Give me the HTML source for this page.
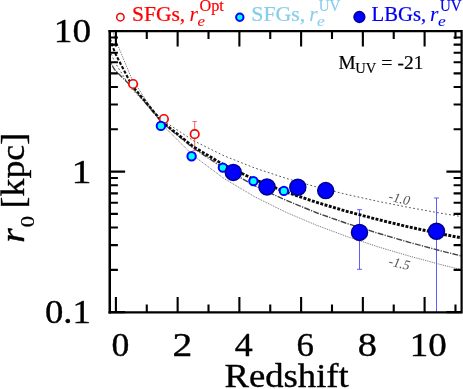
<!DOCTYPE html><html><head><meta charset="utf-8"><style>html,body{margin:0;padding:0;background:#fff}svg{display:block;will-change:transform}text{font-family:"Liberation Serif",serif;stroke-linejoin:round}</style></head><body>
<svg width="463" height="389" viewBox="0 0 463 389">
<rect width="463" height="389" fill="#fff"/>
<defs><clipPath id="c"><rect x="109.9" y="31.1" width="351.7" height="281.3"/></clipPath></defs>
<path d="M194.7,121.5 V150.4 M192.5,121.5 H196.9 M192.5,150.4 H196.9" stroke="#ff5555" stroke-width="0.90" fill="none"/>
<path d="M359.5,209.7 V269.3 M357.0,209.7 H362.0 M357.0,269.3 H362.0" stroke="#4c4cff" stroke-width="0.90" fill="none"/>
<path d="M436.5,198.0 V312.0 M434.0,198.0 H439.0" stroke="#4c4cff" stroke-width="0.90" fill="none"/>
<g clip-path="url(#c)" fill="none">
<path d="M108.18,46.43 L109.73,50.36 L111.27,54.07 L112.81,57.55 L114.36,60.85 L115.90,63.99 L131.34,88.73 L162.21,119.92 L193.07,140.45 L223.94,155.79 L254.81,168.04 L285.69,178.24 L316.56,186.98 L347.43,194.62 L378.29,201.40 L409.16,207.51 L440.03,213.07 L470.90,218.16" stroke="#585858" stroke-width="1" stroke-dasharray="1.8 2.25"/>
<path d="M108.18,14.41 L109.73,20.32 L111.27,25.87 L112.81,31.11 L114.36,36.06 L115.90,40.76 L131.34,77.88 L162.21,124.65 L193.07,155.46 L223.94,178.47 L254.81,196.84 L285.69,212.14 L316.56,225.24 L347.43,236.70 L378.29,246.88 L409.16,256.05 L440.03,264.38 L470.90,272.01" stroke="#666" stroke-width="1" stroke-dasharray="0.9 1.0"/>
<path d="M108.18,56.89 L109.73,60.24 L111.27,63.41 L112.81,66.52 L114.36,69.21 L115.90,71.15 L131.34,86.27 L162.21,122.83 L193.07,147.97 L223.94,168.31 L254.81,185.82 L285.69,200.10 L316.56,212.74 L347.43,223.63 L378.29,233.29 L409.16,242.33 L440.03,250.65 L470.90,258.33" stroke="#444" stroke-width="1.4" stroke-dasharray="5.9 1.3 1.2 1.3"/>
<path d="M108.18,33.70 L109.21,36.84 M109.77,38.56 L110.86,41.69 M111.46,43.37 L112.60,46.47 M113.24,48.14 L114.44,51.22" stroke="#0a0a0a" stroke-width="2.0"/>
<path d="M115.11,52.85 L116.46,55.85 M117.26,57.38 L118.76,60.27 M119.55,61.80 L121.06,64.69 M121.85,66.22 L123.35,69.11 M124.15,70.64 L125.65,73.53 M126.45,75.06 L127.95,77.96 M128.74,79.48 L130.25,82.38" stroke="#0a0a0a" stroke-width="2.1"/>
<path d="M131.04,83.90 L133.00,86.49 M134.01,87.71 L136.03,90.16 M137.06,91.41 L139.09,93.87 M140.12,95.12 L142.14,97.57 M143.17,98.82 L145.20,101.27 M146.23,102.52 L148.25,104.98 M149.28,106.23 L151.31,108.68 M152.34,109.93 L154.36,112.38 M155.39,113.63 L157.42,116.09 M158.45,117.34 L160.47,119.79" stroke="#0a0a0a" stroke-width="2.3"/>
<path d="M161.50,121.04 L163.83,123.19" stroke="#0a0a0a" stroke-width="2.5"/>
<path d="M165.00,124.12 L167.41,126.04 M168.63,127.02 L171.04,128.94 M172.26,129.91 L174.66,131.83 M175.88,132.81 L178.29,134.73 M179.51,135.70 L181.91,137.62 M183.13,138.60 L185.54,140.52 M186.76,141.49 L189.17,143.41 M190.39,144.39 L192.79,146.31" stroke="#0a0a0a" stroke-width="2.6"/>
<path d="M194.09,147.14 L196.68,148.68 M197.99,149.46 L200.58,151.01 M201.89,151.79 L204.48,153.34 M205.79,154.11 L208.38,155.66 M209.69,156.44 L212.28,157.99 M213.59,158.76 L216.18,160.31 M217.49,161.09 L220.08,162.64 M221.39,163.42 L223.98,164.96" stroke="#0a0a0a" stroke-width="2.7"/>
<path d="M225.34,165.60 L228.05,166.89 M229.38,167.53 L232.09,168.82 M233.43,169.46 L236.14,170.75 M237.47,171.38 L240.18,172.67 M241.52,173.31 L244.23,174.60 M245.57,175.24 L248.28,176.53 M249.61,177.16 L252.32,178.45 M253.66,179.09 L256.41,180.27" stroke="#0a0a0a" stroke-width="2.8"/>
<path d="M257.77,180.81 L260.54,181.91 M261.92,182.46 L264.69,183.55 M266.07,184.10 L268.84,185.20 M270.21,185.74 L272.98,186.84 M274.36,187.39 L277.13,188.49 M278.51,189.03 L281.28,190.13 M282.65,190.68 L285.42,191.77 M286.80,192.26 L289.61,193.21 M290.99,193.68 L293.79,194.63 M295.17,195.10 L297.98,196.05 M299.36,196.52 L302.16,197.47 M303.54,197.94 L306.35,198.89 M307.73,199.36 L310.53,200.31 M311.92,200.78 L314.72,201.73 M316.10,202.20 L318.93,203.06 M320.33,203.48 L323.15,204.32 M324.57,204.74 L327.39,205.58 M328.81,206.00 L331.63,206.83 M333.04,207.26 L335.86,208.09 M337.28,208.51 L340.10,209.35 M341.52,209.77 L344.34,210.61 M345.76,211.03 L348.59,211.83 M350.00,212.21 L352.84,212.96 M354.25,213.33 L357.10,214.08 M358.51,214.45 L361.35,215.20 M362.76,215.57 L365.61,216.32 M367.02,216.70 L369.86,217.45 M371.27,217.82 L374.12,218.57 M375.53,218.94 L378.37,219.69 M379.79,220.03 L382.65,220.71 M384.08,221.05 L386.94,221.73 M388.36,222.06 L391.22,222.74 M392.64,223.08 L395.50,223.76 M396.92,224.10 L399.78,224.78 M401.20,225.11 L404.07,225.79 M405.49,226.13 L408.35,226.81" stroke="#0a0a0a" stroke-width="2.9"/>
<path d="M409.77,227.14 L412.63,227.75 M414.05,228.06 L416.91,228.68 M418.33,228.98 L421.19,229.60 M422.62,229.91 L425.47,230.52 M426.90,230.83 L429.75,231.45 M431.18,231.76 L434.03,232.37 M435.46,232.68 L438.31,233.30 M439.74,233.60 L442.61,234.18 M444.04,234.46 L446.90,235.03 M448.34,235.31 L451.20,235.88 M452.63,236.16 L455.50,236.73 M456.93,237.01 L459.80,237.58 M461.23,237.86 L464.10,238.43 M465.53,238.71 L468.39,239.28 M469.83,239.56 L470.90,239.78" stroke="#0a0a0a" stroke-width="3.0"/>
</g>
<text x="399.4" y="202.9" font-size="13.5" font-style="italic" fill="#555" text-anchor="middle" transform="rotate(13 399.4 198.6)">-1.0</text>
<text x="399.4" y="267.8" font-size="13.5" font-style="italic" fill="#555" text-anchor="middle" transform="rotate(13 399.4 263.5)">-1.5</text>
<circle cx="133.1" cy="84.0" r="4.25" fill="#e0ffff" stroke="#f00" stroke-width="1.7"/>
<circle cx="163.9" cy="119.0" r="4.25" fill="#e0ffff" stroke="#f00" stroke-width="1.7"/>
<circle cx="194.7" cy="134.2" r="4.25" fill="#e0ffff" stroke="#f00" stroke-width="1.7"/>
<circle cx="160.9" cy="125.9" r="4.2" fill="#00ffff" stroke="#0000ff" stroke-width="2.0"/>
<circle cx="191.6" cy="156.2" r="4.2" fill="#00ffff" stroke="#0000ff" stroke-width="2.0"/>
<circle cx="222.9" cy="167.6" r="4.2" fill="#00ffff" stroke="#0000ff" stroke-width="2.0"/>
<circle cx="253.4" cy="181.1" r="4.2" fill="#00ffff" stroke="#0000ff" stroke-width="2.0"/>
<circle cx="283.9" cy="190.9" r="4.2" fill="#00ffff" stroke="#0000ff" stroke-width="2.0"/>
<circle cx="233.3" cy="172.4" r="8.0" fill="#0000ff" stroke="#000090" stroke-width="1.5"/>
<circle cx="267.0" cy="186.9" r="8.0" fill="#0000ff" stroke="#000090" stroke-width="1.5"/>
<circle cx="297.8" cy="187.2" r="8.0" fill="#0000ff" stroke="#000090" stroke-width="1.5"/>
<circle cx="325.7" cy="190.6" r="8.0" fill="#0000ff" stroke="#000090" stroke-width="1.5"/>
<circle cx="359.5" cy="232.4" r="8.0" fill="#0000ff" stroke="#000090" stroke-width="1.5"/>
<circle cx="436.5" cy="231.3" r="8.0" fill="#0000ff" stroke="#000090" stroke-width="1.5"/>
<g stroke="#000" stroke-width="2.2" fill="none" stroke-linecap="butt">
<path d="M108.50,31.05 H462.70 M108.50,312.40 H462.70 M461.60,31.05 V312.40"/>
<path d="M109.75,29.95 V313.50" stroke-width="2.5"/>
</g>
<path d="M115.90,312.4 v-15.4 M115.90,31.1 v15.4 M146.77,312.4 v-7.9 M146.77,31.1 v7.9 M177.64,312.4 v-15.4 M177.64,31.1 v15.4 M208.51,312.4 v-7.9 M208.51,31.1 v7.9 M239.38,312.4 v-15.4 M239.38,31.1 v15.4 M270.25,312.4 v-7.9 M270.25,31.1 v7.9 M301.12,312.4 v-15.4 M301.12,31.1 v15.4 M331.99,312.4 v-7.9 M331.99,31.1 v7.9 M362.86,312.4 v-15.4 M362.86,31.1 v15.4 M393.73,312.4 v-7.9 M393.73,31.1 v7.9 M424.60,312.4 v-15.4 M424.60,31.1 v15.4 M455.47,312.4 v-7.9 M455.47,31.1 v7.9 M109.9,171.60 h15.2 M461.6,171.60 h-15.2 M109.9,129.29 h8.0 M461.6,129.29 h-8.0 M109.9,104.54 h8.0 M461.6,104.54 h-8.0 M109.9,86.98 h8.0 M461.6,86.98 h-8.0 M109.9,73.36 h8.0 M461.6,73.36 h-8.0 M109.9,62.23 h8.0 M461.6,62.23 h-8.0 M109.9,52.82 h8.0 M461.6,52.82 h-8.0 M109.9,44.67 h8.0 M461.6,44.67 h-8.0 M109.9,37.48 h8.0 M461.6,37.48 h-8.0 M109.9,312.15 h15.2 M461.6,312.15 h-15.2 M109.9,269.84 h8.0 M461.6,269.84 h-8.0 M109.9,245.09 h8.0 M461.6,245.09 h-8.0 M109.9,227.53 h8.0 M461.6,227.53 h-8.0 M109.9,213.91 h8.0 M461.6,213.91 h-8.0 M109.9,202.78 h8.0 M461.6,202.78 h-8.0 M109.9,193.37 h8.0 M461.6,193.37 h-8.0 M109.9,185.22 h8.0 M461.6,185.22 h-8.0 M109.9,178.03 h8.0 M461.6,178.03 h-8.0" stroke="#000" stroke-width="2.1" fill="none"/>
<text transform="translate(111.57 355.60) scale(1.0504 1)" font-size="34.00" fill="#000" stroke="#000" stroke-width="0.37">0</text>
<text transform="translate(172.62 355.60) scale(1.1618 1)" font-size="34.00" fill="#000" stroke="#000" stroke-width="0.37">2</text>
<text transform="translate(234.78 355.60) scale(1.0563 1)" font-size="34.00" fill="#000" stroke="#000" stroke-width="0.37">4</text>
<text transform="translate(296.40 355.60) scale(1.0260 1)" font-size="34.00" fill="#000" stroke="#000" stroke-width="0.37">6</text>
<text transform="translate(357.77 355.60) scale(1.1275 1)" font-size="34.00" fill="#000" stroke="#000" stroke-width="0.37">8</text>
<text transform="translate(409.85 355.60) scale(1.0891 1)" font-size="34.00" fill="#000" stroke="#000" stroke-width="0.37">10</text>
<text transform="translate(53.83 42.20) scale(1.0958 1)" font-size="34.00" fill="#000" stroke="#000" stroke-width="0.37">10</text>
<text transform="translate(71.50 182.80) scale(1.1765 1)" font-size="34.00" fill="#000" stroke="#000" stroke-width="0.37">1</text>
<text transform="translate(44.93 323.40) scale(1.0818 1)" font-size="34.00" fill="#000" stroke="#000" stroke-width="0.37">0.1</text>
<text transform="translate(224.50 387.00) scale(1.0951 1)" font-size="33.50" fill="#000" stroke="#000" stroke-width="0.37">Redshift</text>
<text transform="translate(24.20 241.20) rotate(-90) scale(1.0766 1) translate(-1.38 0)" font-size="34.50" fill="#000" font-style="italic" stroke="#000" stroke-width="0.38">r</text>
<text transform="translate(34.00 226.40) rotate(-90) scale(1.1720 1) translate(-0.77 0)" font-size="19.30" fill="#000" stroke="#000" stroke-width="0.21">0</text>
<text transform="translate(24.20 205.70) rotate(-90) scale(1.0838 1) translate(-2.48 0)" font-size="33.00" fill="#000" stroke="#000" stroke-width="0.36">[kpc]</text>
<circle cx="120.4" cy="17.2" r="3.7" fill="#e0ffff" stroke="#f00" stroke-width="1.5"/>
<text transform="translate(132.00 20.80) scale(1.0505 1)" font-size="20.50" fill="#ff0000" stroke="#ff0000" stroke-width="0.23">SFGs,</text>
<text transform="translate(189.53 21.00) scale(1.0100 1)" font-size="21.50" fill="#ff0000" font-style="italic" stroke="#ff0000" stroke-width="0.05">r</text>
<text transform="translate(199.45 11.30) scale(1.0047 1)" font-size="16.20" fill="#ff0000" stroke="#ff0000" stroke-width="0.18">Opt</text>
<text transform="translate(197.49 25.90) scale(1.1671 1)" font-size="14.50" fill="#ff0000" font-style="italic" stroke="#ff0000" stroke-width="0.05">e</text>
<circle cx="239.8" cy="17.2" r="3.7" fill="#00ffff" stroke="#0000ff" stroke-width="2.0"/>
<text transform="translate(251.28 20.80) scale(1.0651 1)" font-size="20.50" fill="#87ceeb" stroke="#87ceeb" stroke-width="0.23">SFGs,</text>
<text transform="translate(309.14 21.00) scale(0.9967 1)" font-size="21.50" fill="#87ceeb" font-style="italic" stroke="#87ceeb" stroke-width="0.05">r</text>
<text transform="translate(318.70 11.35) scale(0.8950 1)" font-size="16.80" fill="#87ceeb" stroke="#87ceeb" stroke-width="0.18">UV</text>
<text transform="translate(316.98 25.90) scale(1.2025 1)" font-size="14.50" fill="#87ceeb" font-style="italic" stroke="#87ceeb" stroke-width="0.05">e</text>
<circle cx="359.4" cy="17.0" r="5.5" fill="#0000ff" stroke="#000090" stroke-width="1.3"/>
<text transform="translate(371.58 20.80) scale(1.0082 1)" font-size="20.50" fill="#0000f0" stroke="#0000f0" stroke-width="0.23">LBGs,</text>
<text transform="translate(429.93 21.00) scale(1.0100 1)" font-size="21.50" fill="#0000f0" font-style="italic" stroke="#0000f0" stroke-width="0.05">r</text>
<text transform="translate(439.90 11.35) scale(0.8950 1)" font-size="16.80" fill="#0000f0" stroke="#0000f0" stroke-width="0.18">UV</text>
<text transform="translate(437.88 25.90) scale(1.2025 1)" font-size="14.50" fill="#0000f0" font-style="italic" stroke="#0000f0" stroke-width="0.05">e</text>
<text transform="translate(338.52 68.50) scale(1.0710 1)" font-size="18.00" fill="#000" stroke="#000" stroke-width="0.20">M</text>
<text transform="translate(355.21 73.20) scale(0.9693 1)" font-size="15.00" fill="#000" stroke="#000" stroke-width="0.16">UV</text>
<text transform="translate(381.21 68.50) scale(1.0992 1)" font-size="18.00" fill="#000" stroke="#000" stroke-width="0.20">=</text>
<text transform="translate(397.52 68.50) scale(1.0753 1)" font-size="18.00" fill="#000" stroke="#000" stroke-width="0.20">-21</text>
</svg></body></html>
